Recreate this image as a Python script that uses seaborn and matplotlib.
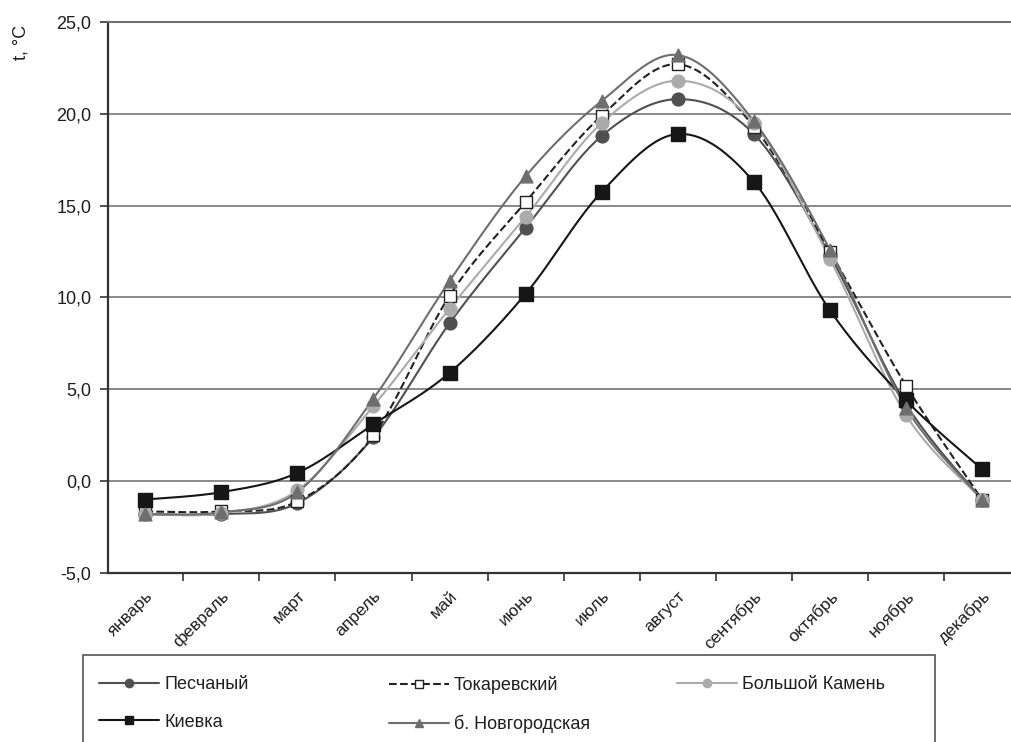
import numpy as np
import pandas as pd
import matplotlib
matplotlib.use("Agg")
import matplotlib.pyplot as plt
from matplotlib.lines import Line2D
from matplotlib.patches import Rectangle
from matplotlib.ticker import FuncFormatter, FixedLocator
import seaborn as sns

months = ['январь', 'февраль', 'март', 'апрель', 'май', 'июнь',
          'июль', 'август', 'сентябрь', 'октябрь', 'ноябрь', 'декабрь']

peschany = [-1.8, -1.8, -1.2, 2.4, 8.6, 13.8, 18.8, 20.8, 18.9, 12.3, 4.2, -1.0]
tokarevsky = [-1.65, -1.65, -1.1, 2.5, 10.1, 15.2, 19.9, 22.7, 19.3, 12.5, 5.2, -1.0]
bolshoy_kamen = [-1.8, -1.75, -0.5, 4.1, 9.4, 14.4, 19.5, 21.8, 19.5, 12.1, 3.6, -1.0]
kievka = [-1.0, -0.6, 0.45, 3.1, 5.9, 10.2, 15.75, 18.9, 16.3, 9.3, 4.4, 0.65]
novgorodskaya = [-1.8, -1.7, -0.6, 4.5, 10.9, 16.6, 20.7, 23.2, 19.6, 12.6, 4.0, -1.0]

series = [
    # name, values, colour, linestyle, marker, face
    ('Песчаный', peschany, '#505050', '-', 'o', '#505050'),
    ('Токаревский', tokarevsky, '#222222', '--', 's', 'white'),
    ('Большой Камень', bolshoy_kamen, '#ababab', '-', 'o', '#ababab'),
    ('Киевка', kievka, '#161616', '-', 's', '#161616'),
    ('б. Новгородская', novgorodskaya, '#6e6e6e', '-', '^', '#6e6e6e'),
]


def smooth(vals, steps=24):
    # Excel-style smoothed line (Bezier through points, tension 1/6)
    p = np.asarray(vals, float)
    x = np.arange(len(p), dtype=float)
    xs, ys = [], []
    n = len(p)
    for i in range(n - 1):
        i0, i2, i3 = max(i - 1, 0), i + 1, min(i + 2, n - 1)
        for pts, out in ((x, xs), (p, ys)):
            b0 = pts[i]
            b1 = pts[i] + (pts[i2] - pts[i0]) / 6
            b2 = pts[i2] - (pts[i3] - pts[i]) / 6
            b3 = pts[i2]
            t = np.linspace(0, 1, steps, endpoint=(i == n - 2))
            out.extend((1 - t) ** 3 * b0 + 3 * (1 - t) ** 2 * t * b1
                       + 3 * (1 - t) * t ** 2 * b2 + t ** 3 * b3)
    return np.array(xs), np.array(ys)


sns.set_theme(style="white")
plt.rcParams['font.family'] = ['Liberation Sans', 'DejaVu Sans']

fig = plt.figure(figsize=(10.11, 7.42), dpi=100)
ax = fig.add_axes([108 / 1011, 1 - 573 / 742, 1 - 108 / 1011, 551 / 742])

for name, vals, col, ls, mk, face in series:
    sx, sy = smooth(vals)
    sns.lineplot(x=sx, y=sy, ax=ax, color=col, linestyle=ls, linewidth=1.5,
                 sort=False, estimator=None, legend=False)
for name, vals, col, ls, mk, face in series:
    df = pd.DataFrame({'x': np.arange(len(months)), 'y': vals})
    sz = 95 if mk == 's' else 85
    if mk == 's' and face == 'white':
        sz = 65
    sns.scatterplot(data=df, x='x', y='y', ax=ax, marker=mk, s=sz,
                    color=face, edgecolor=col, linewidth=1.0, zorder=5,
                    legend=False)

ax.set_xlim(-0.49, 11.38)
ax.set_ylim(-5, 25)
ax.set_yticks(np.arange(-5, 26, 5))
ax.yaxis.set_major_formatter(FuncFormatter(lambda v, _: f'{v:.1f}'.replace('.', ',')))
ax.set_xticks(range(len(months)))
ax.set_xticklabels(months, rotation=45, ha='right', rotation_mode='anchor',
                   fontsize=12.5, color='#1e1e1e')
ax.xaxis.set_minor_locator(FixedLocator(np.arange(-0.5, 11.6, 1)))
ax.tick_params(axis='x', which='major', length=0, pad=11)
ax.tick_params(axis='x', which='minor', length=6, width=1.2, color='#333333',
               direction='out', bottom=True)
ax.tick_params(axis='y', length=6, width=1.2, color='#333333', direction='out',
               left=True, labelsize=13, labelcolor='#1e1e1e', pad=6)
ax.set_xlabel('')
ax.set_ylabel('')

ax.grid(axis='y', color='#808080', linewidth=1.3)
ax.set_axisbelow(True)
ax.spines['right'].set_visible(False)
ax.spines['top'].set_color('#707070')
ax.spines['top'].set_linewidth(1.5)
for side in ['left', 'bottom']:
    ax.spines[side].set_color('#333333')
    ax.spines[side].set_linewidth(1.6)

fig.text(21 / 1011, 1 - 42 / 742, 't, °C', rotation=90, ha='center',
         va='center', fontsize=13, color='#1e1e1e')

# legend box with three columns
fig.patches.append(Rectangle((83 / 1011, -0.05), (935 - 83) / 1011, 0.05 + 1 - 655 / 742,
                             transform=fig.transFigure, fill=False,
                             edgecolor='#555555', linewidth=1.2))
handles = {}
for name, vals, col, ls, mk, face in series:
    handles[name] = Line2D([], [], color=col, linestyle=ls, linewidth=1.5,
                           marker=mk, markersize=6, markerfacecolor=face,
                           markeredgecolor=col)
columns = [(['Песчаный', 'Киевка'], 90),
           (['Токаревский', 'б. Новгородская'], 380),
           (['Большой Камень'], 668)]
for names, px in columns:
    fig.legend([handles[n] for n in names], names, loc='upper left',
               bbox_to_anchor=(px / 1011, 1 - 667 / 742), frameon=False,
               fontsize=13, handlelength=3.3, handletextpad=0.3,
               labelspacing=1.15, borderpad=0, labelcolor='#1e1e1e')

fig.savefig('out.png', dpi=100)
